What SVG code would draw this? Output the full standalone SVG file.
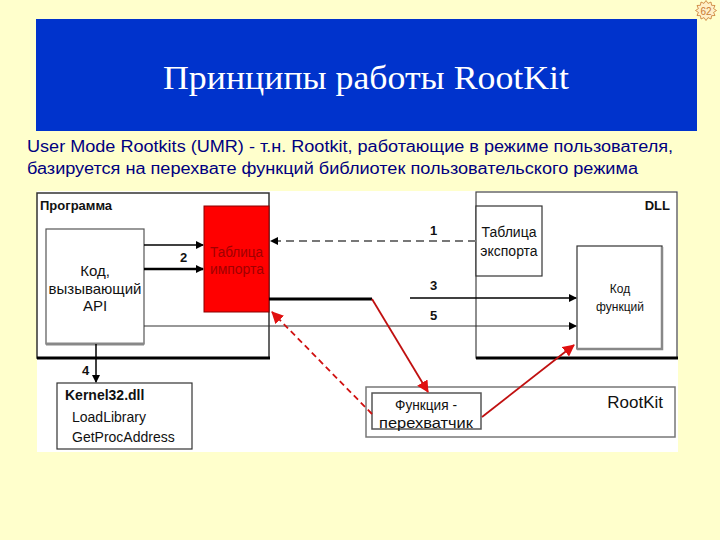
<svg xmlns="http://www.w3.org/2000/svg" width="720" height="540" viewBox="0 0 720 540">
<style>
.t{font-family:"Liberation Sans",Arial,sans-serif;fill:#111}
.b{font-weight:bold}
.lbl{font-family:"Liberation Sans",Arial,sans-serif;font-weight:bold;font-size:13px;fill:#111}
</style>
<defs>
<marker id="ab" markerWidth="8" markerHeight="8" refX="7" refY="4" orient="auto" markerUnits="userSpaceOnUse"><path d="M0,0 L8,4 L0,8 Z" fill="#000"/></marker>
<marker id="ar" markerWidth="12" markerHeight="12" refX="11" refY="6" orient="auto" markerUnits="userSpaceOnUse"><path d="M0,0 L12,6 L0,12 Z" fill="#e01010"/></marker>
</defs>
<rect width="720" height="540" fill="#FFFFCC"/>
<g id="badge">
<polygon points="706,0.5 708,3.4 711,2 711.6,5.3 715,5.5 713.6,8.6 716.5,10.5 713.6,12.4 715,15.5 711.6,15.7 711,19 708,17.6 706,20.5 704,17.6 701,19 700.4,15.7 697,15.5 698.4,12.4 695.5,10.5 698.4,8.6 697,5.5 700.4,5.3 701,2 704,3.4" fill="#FFF0C8" stroke="#C87830" stroke-width="0.8"/>
<text x="706" y="14.5" text-anchor="middle" font-family="Liberation Sans Narrow,Liberation Sans,sans-serif" font-size="10" fill="#C87830">62</text>
</g>
<g id="title">
<rect x="36" y="19" width="661" height="112" fill="#0033CC"/>
<text x="366" y="89" text-anchor="middle" font-family="Liberation Serif,Times New Roman,serif" font-size="33" fill="#fff" textLength="406" lengthAdjust="spacingAndGlyphs">Принципы работы RootKit</text>
</g>
<g id="subtitle" font-family="Liberation Sans,Arial,sans-serif" font-size="16" fill="#000080">
<text x="27" y="152" textLength="646" lengthAdjust="spacingAndGlyphs">User Mode Rootkits (UMR) - т.н. Rootkit, работающие в режиме пользователя,</text>
<text x="27" y="174" textLength="611" lengthAdjust="spacingAndGlyphs">базируется на перехвате функций библиотек пользовательского режима</text>
</g>
<rect x="37" y="191" width="641" height="261" fill="#fff"/>
<g id="program">
<rect x="37" y="193" width="232" height="165" fill="#fff" stroke="#333" stroke-width="1.5"/>
<line x1="37" y1="358" x2="270" y2="358" stroke="#000" stroke-width="3"/>
<text x="40" y="210" class="t b" font-size="13">Программа</text>
</g>
<g id="code">
<rect x="46" y="229" width="98" height="115" fill="#fff" stroke="#555" stroke-width="1.2"/>
<line x1="46" y1="344" x2="144" y2="344" stroke="#888" stroke-width="3"/>
<text class="t" font-size="15" text-anchor="middle"><tspan x="95" y="276">Код,</tspan><tspan x="95" y="294">вызывающий</tspan><tspan x="95" y="311">API</tspan></text>
</g>
<g id="import">
<rect x="204" y="206" width="65" height="106" fill="#FF0000" stroke="#8a0000" stroke-width="1"/>
<text font-family="Liberation Sans,Arial,sans-serif" font-size="14" fill="#A00000" x="210" y="257" textLength="53" lengthAdjust="spacingAndGlyphs">Таблица</text>
<text font-family="Liberation Sans,Arial,sans-serif" font-size="14" fill="#A00000" x="210" y="274" textLength="54" lengthAdjust="spacingAndGlyphs">импорта</text>
</g>
<g id="dll">
<rect x="476" y="192" width="201" height="166" fill="#fff" stroke="#444" stroke-width="1.2"/>
<line x1="476" y1="358" x2="678" y2="358" stroke="#000" stroke-width="3"/>
<text x="670" y="210" class="t b" font-size="13" text-anchor="end">DLL</text>
</g>
<g id="export">
<rect x="476" y="206" width="66" height="70" fill="#fff" stroke="#333" stroke-width="1.2"/>
<text class="t" font-size="14" text-anchor="middle"><tspan x="509" y="237">Таблица</tspan><tspan x="509" y="256">экспорта</tspan></text>
</g>
<g id="funcs">
<rect x="577" y="246" width="85" height="103" fill="#fff" stroke="#333" stroke-width="1.2"/>
<polyline points="662,247 662,349 577,349" fill="none" stroke="#888" stroke-width="2.5"/>
<text class="t" font-size="12" text-anchor="middle"><tspan x="620" y="293">Код</tspan><tspan x="620" y="311">функций</tspan></text>
</g>
<g id="kernel">
<rect x="57" y="383" width="135" height="66" fill="#fff" stroke="#333" stroke-width="1.2"/>
<text x="65" y="400" class="t b" font-size="14">Kernel32.dll</text>
<text x="72" y="422" class="t" font-size="14">LoadLibrary</text>
<text x="72" y="442" class="t" font-size="14">GetProcAddress</text>
</g>
<g id="rootkit">
<rect x="366" y="387" width="309" height="50" fill="#fff" stroke="#777" stroke-width="1.5"/>
<text x="663" y="408" class="t" font-size="17" text-anchor="end">RootKit</text>
</g>
<g id="hook">
<rect x="372" y="393" width="109" height="36" fill="#fff" stroke="#555" stroke-width="1.5"/>
<text x="395" y="410" class="t" font-size="14" textLength="62" lengthAdjust="spacingAndGlyphs">Функция -</text>
<text x="379" y="428" class="t" font-size="14" textLength="94" lengthAdjust="spacingAndGlyphs">перехватчик</text>
</g>
<g id="connectors" fill="none">
<line x1="144" y1="245" x2="203" y2="245" stroke="#000" stroke-width="1.5" marker-end="url(#ab)"/>
<line x1="144" y1="269" x2="203" y2="269" stroke="#000" stroke-width="2.5" marker-end="url(#ab)"/>
<line x1="476" y1="241" x2="271" y2="241" stroke="#777" stroke-width="2" stroke-dasharray="8,5" marker-end="url(#ab)"/>
<line x1="269" y1="299" x2="372" y2="299" stroke="#000" stroke-width="3"/>
<line x1="410" y1="298" x2="576" y2="298" stroke="#000" stroke-width="1.5" marker-end="url(#ab)"/>
<line x1="144" y1="326" x2="576" y2="326" stroke="#333" stroke-width="1.2" marker-end="url(#ab)"/>
<line x1="96" y1="344" x2="96" y2="382" stroke="#000" stroke-width="1.5" marker-end="url(#ab)"/>
<line x1="372" y1="299" x2="428" y2="392" stroke="#c01010" stroke-width="1.8" marker-end="url(#ar)"/>
<line x1="372" y1="414" x2="272" y2="312" stroke="#d01010" stroke-width="1.8" stroke-dasharray="6,4" marker-end="url(#ar)"/>
<line x1="482" y1="417" x2="574" y2="345" stroke="#c01010" stroke-width="1.8" marker-end="url(#ar)"/>
<text x="180" y="262" class="lbl">2</text>
<text x="430" y="235" class="lbl">1</text>
<text x="430" y="290" class="lbl">3</text>
<text x="430" y="320" class="lbl">5</text>
<text x="82" y="375" class="lbl">4</text>
</g>
</svg>
